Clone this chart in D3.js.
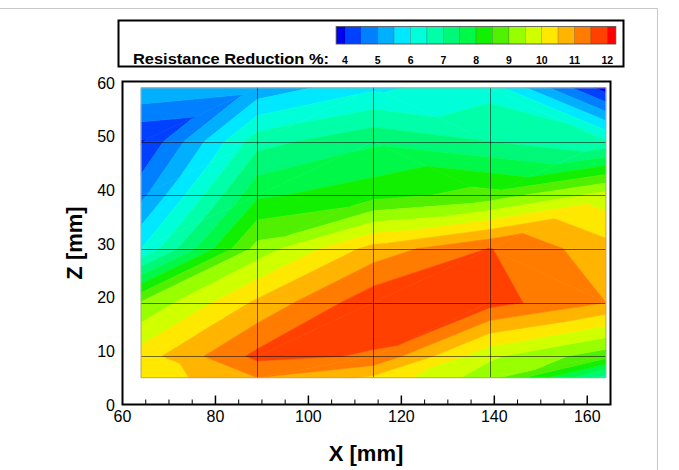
<!DOCTYPE html>
<html>
<head>
<meta charset="utf-8">
<script src="https://cdn.jsdelivr.net/npm/d3@7"></script>
<style>
  body { margin: 0; background: #fff; }
  text { font-family: "Liberation Sans", Arial, sans-serif; fill: #000; }
</style>
</head>
<body>
<svg id="chart" width="679" height="470"></svg>
<script>
/* Resistance reduction contour (tecplot style flood) drawn with d3 */

var xNodes = [64, 89, 114, 139, 164];
var zNodes = [5, 9, 19, 29, 39, 49, 59];

// one row per zNodes entry, one column per xNodes entry
var reduction = [
  [10.15, 11.0, 10.4, 9.2, 6.8],
  [10.25, 11.64, 11.45, 9.6, 8.7],
  [9.05, 10.6, 11.85, 11.7, 11.0],
  [6.0, 9.2, 10.7, 11.52, 10.7],
  [4.85, 7.9, 8.3, 8.7, 9.7],
  [3.95, 6.8, 7.4, 7.0, 6.6],
  [5.45, 5.15, 5.9, 6.3, 3.75]
];

var levels = [4, 4.5, 5, 5.5, 6, 6.5, 7, 7.5, 8, 8.5, 9, 9.5, 10, 10.5, 11, 11.5, 12];
var bandColors = ["#0000f0", "#0040ff", "#0080ff", "#00b0ff", "#00e8ff", "#00ffd8",
                  "#00ffa8", "#00f878", "#00f848", "#10f000", "#50f000", "#98ff00",
                  "#d0ff00", "#ffe800", "#ffb400", "#ff7c00", "#ff4000", "#ff0000"];

var xTicks = [60, 80, 100, 120, 140, 160];
var zTicks = [0, 10, 20, 30, 40, 50, 60];
var legendTicks = [4, 5, 6, 7, 8, 9, 10, 11, 12];

var svg = d3.select('#chart');

svg.append('rect')
  .attr('width', 679).attr('height', 470).attr('fill', '#fff');

// light page border like the exported figure
svg.append('path')
  .attr('d', 'M0,8.5H657.5V470')
  .attr('fill', 'none').attr('stroke', '#c8c8c8');

var x = d3.scaleLinear().domain([60, 165]).range([122.5, 610.5]),
    y = d3.scaleLinear().domain([0, 60]).range([404.5, 82.5]);

// --- flood contours: each cell cut in 2 triangles along its flatter diagonal ---
function clip(poly, level, keepAbove) {
  var out = [];
  for (var i = 0; i < poly.length; i++) {
    var a = poly[i], b = poly[(i + 1) % poly.length];
    var ina = keepAbove ? a[2] >= level : a[2] <= level;
    var inb = keepAbove ? b[2] >= level : b[2] <= level;
    if (ina) out.push(a);
    if (ina !== inb) {
      var t = (level - a[2]) / (b[2] - a[2]);
      out.push([a[0] + t * (b[0] - a[0]), a[1] + t * (b[1] - a[1]), level]);
    }
  }
  return out;
}

var pieces = [];
for (var j = 0; j < zNodes.length - 1; j++) {
  for (var i = 0; i < xNodes.length - 1; i++) {
    var p00 = [xNodes[i], zNodes[j], reduction[j][i]],
        p10 = [xNodes[i + 1], zNodes[j], reduction[j][i + 1]],
        p11 = [xNodes[i + 1], zNodes[j + 1], reduction[j + 1][i + 1]],
        p01 = [xNodes[i], zNodes[j + 1], reduction[j + 1][i]];
    var tris;
    if (Math.abs(p00[2] - p11[2]) <= Math.abs(p10[2] - p01[2]))
      tris = [[p00, p10, p11], [p00, p11, p01]];
    else
      tris = [[p00, p10, p01], [p10, p11, p01]];
    tris.forEach(function(tri) {
      for (var k = 0; k < bandColors.length; k++) {
        var poly = tri;
        if (k > 0) poly = clip(poly, levels[k - 1], true);
        if (poly.length >= 3 && k < levels.length) poly = clip(poly, levels[k], false);
        if (poly.length >= 3) pieces.push({ band: k, pts: poly });
      }
    });
  }
}

var line = d3.line()
  .x(function(d) { return x(d[0]); })
  .y(function(d) { return y(d[1]); });

svg.append('g')
  .selectAll('path')
  .data(pieces)
  .enter().append('path')
    .attr('d', function(d) { return line(d.pts) + 'Z'; })
    .attr('fill', function(d) { return bandColors[d.band]; })
    .attr('stroke', function(d) { return bandColors[d.band]; })
    .attr('stroke-width', 0.6)
    .attr('stroke-linejoin', 'round');

// mesh lines
var mesh = svg.append('g').attr('fill', 'none');
mesh.selectAll('.vx')
  .data(xNodes.slice(1, -1))
  .enter().append('line')
    .attr('x1', function(d) { return Math.round(x(d)) + 0.5; })
    .attr('x2', function(d) { return Math.round(x(d)) + 0.5; })
    .attr('y1', y(zNodes[0]))
    .attr('y2', y(zNodes[zNodes.length - 1]))
    .attr('stroke', 'rgba(0,0,0,0.55)');
mesh.selectAll('.hz')
  .data(zNodes.slice(1, -1))
  .enter().append('line')
    .attr('y1', function(d) { return Math.round(y(d)) + 0.5; })
    .attr('y2', function(d) { return Math.round(y(d)) + 0.5; })
    .attr('x1', x(xNodes[0]))
    .attr('x2', x(xNodes[xNodes.length - 1]))
    .attr('stroke', 'rgba(0,0,0,0.55)');
mesh.append('rect')
  .attr('x', x(xNodes[0])).attr('y', y(zNodes[zNodes.length - 1]))
  .attr('width', x(xNodes[xNodes.length - 1]) - x(xNodes[0]))
  .attr('height', y(zNodes[0]) - y(zNodes[zNodes.length - 1]))
  .attr('stroke', '#a8a8a8');

// frame
svg.append('rect')
  .attr('x', x.range()[0]).attr('y', y.range()[1] - 1)
  .attr('width', x.range()[1] - x.range()[0])
  .attr('height', y.range()[0] - y.range()[1] + 1)
  .attr('fill', 'none').attr('stroke', '#000').attr('stroke-width', 2);

// bottom ticks point inward
var minor = d3.range(65, 165, 5).filter(function(d) { return d % 20 !== 0; });
svg.append('g').selectAll('line')
  .data(minor)
  .enter().append('line')
    .attr('x1', function(d) { return x(d); }).attr('x2', function(d) { return x(d); })
    .attr('y1', y(0)).attr('y2', y(0) - 5)
    .attr('stroke', '#000');
svg.append('g').selectAll('line')
  .data(xTicks.slice(1))
  .enter().append('line')
    .attr('x1', function(d) { return x(d); }).attr('x2', function(d) { return x(d); })
    .attr('y1', y(0)).attr('y2', y(0) - 9)
    .attr('stroke', '#000').attr('stroke-width', 1.5);

svg.append('g').selectAll('text')
  .data(xTicks)
  .enter().append('text')
    .attr('x', function(d) { return x(d); })
    .attr('y', 422)
    .attr('text-anchor', 'middle')
    .attr('font-size', 16)
    .text(function(d) { return d; });

svg.append('g').selectAll('text')
  .data(zTicks)
  .enter().append('text')
    .attr('x', 115)
    .attr('y', function(d) { return y(d) + 6; })
    .attr('text-anchor', 'end')
    .attr('font-size', 16)
    .text(function(d) { return d; });

svg.append('text')
  .attr('x', 366).attr('y', 461)
  .attr('text-anchor', 'middle')
  .attr('font-size', 22).attr('font-weight', 'bold')
  .text('X [mm]');

svg.append('text')
  .attr('transform', 'translate(82,243) rotate(-90)')
  .attr('text-anchor', 'middle')
  .attr('font-size', 22).attr('font-weight', 'bold')
  .text('Z [mm]');

// --- legend ---
var legend = svg.append('g');
legend.append('rect')
  .attr('x', 118.5).attr('y', 20.5).attr('width', 505).attr('height', 46)
  .attr('fill', '#fff').attr('stroke', '#000').attr('stroke-width', 2);

var lx = d3.scaleLinear().domain([4, 12]).range([345, 607.3]);
var bandEdges = [3.73].concat(levels, [12.26]);

legend.selectAll('.band')
  .data(bandColors)
  .enter().append('rect')
    .attr('x', function(d, k) { return lx(bandEdges[k]); })
    .attr('width', function(d, k) { return lx(bandEdges[k + 1]) - lx(bandEdges[k]); })
    .attr('y', 26.5).attr('height', 17.5)
    .attr('fill', function(d) { return d; })
    .attr('stroke', 'rgba(0,0,0,0.25)').attr('stroke-width', 0.6);

legend.append('rect')
  .attr('x', lx(bandEdges[0])).attr('y', 26.5)
  .attr('width', lx(bandEdges[bandEdges.length - 1]) - lx(bandEdges[0]))
  .attr('height', 17.5)
  .attr('fill', 'none').attr('stroke', '#555').attr('stroke-width', 0.8);

legend.selectAll('.lab')
  .data(legendTicks)
  .enter().append('text')
    .attr('x', function(d) { return lx(d); })
    .attr('y', 63.5)
    .attr('text-anchor', 'middle')
    .attr('font-size', 10.5).attr('font-weight', 'bold')
    .text(function(d) { return d; });

legend.append('text')
  .attr('x', 133).attr('y', 63.5)
  .attr('font-size', 14).attr('font-weight', 'bold')
  .attr('textLength', 196).attr('lengthAdjust', 'spacingAndGlyphs')
  .text('Resistance Reduction %:');
</script>
</body>
</html>
